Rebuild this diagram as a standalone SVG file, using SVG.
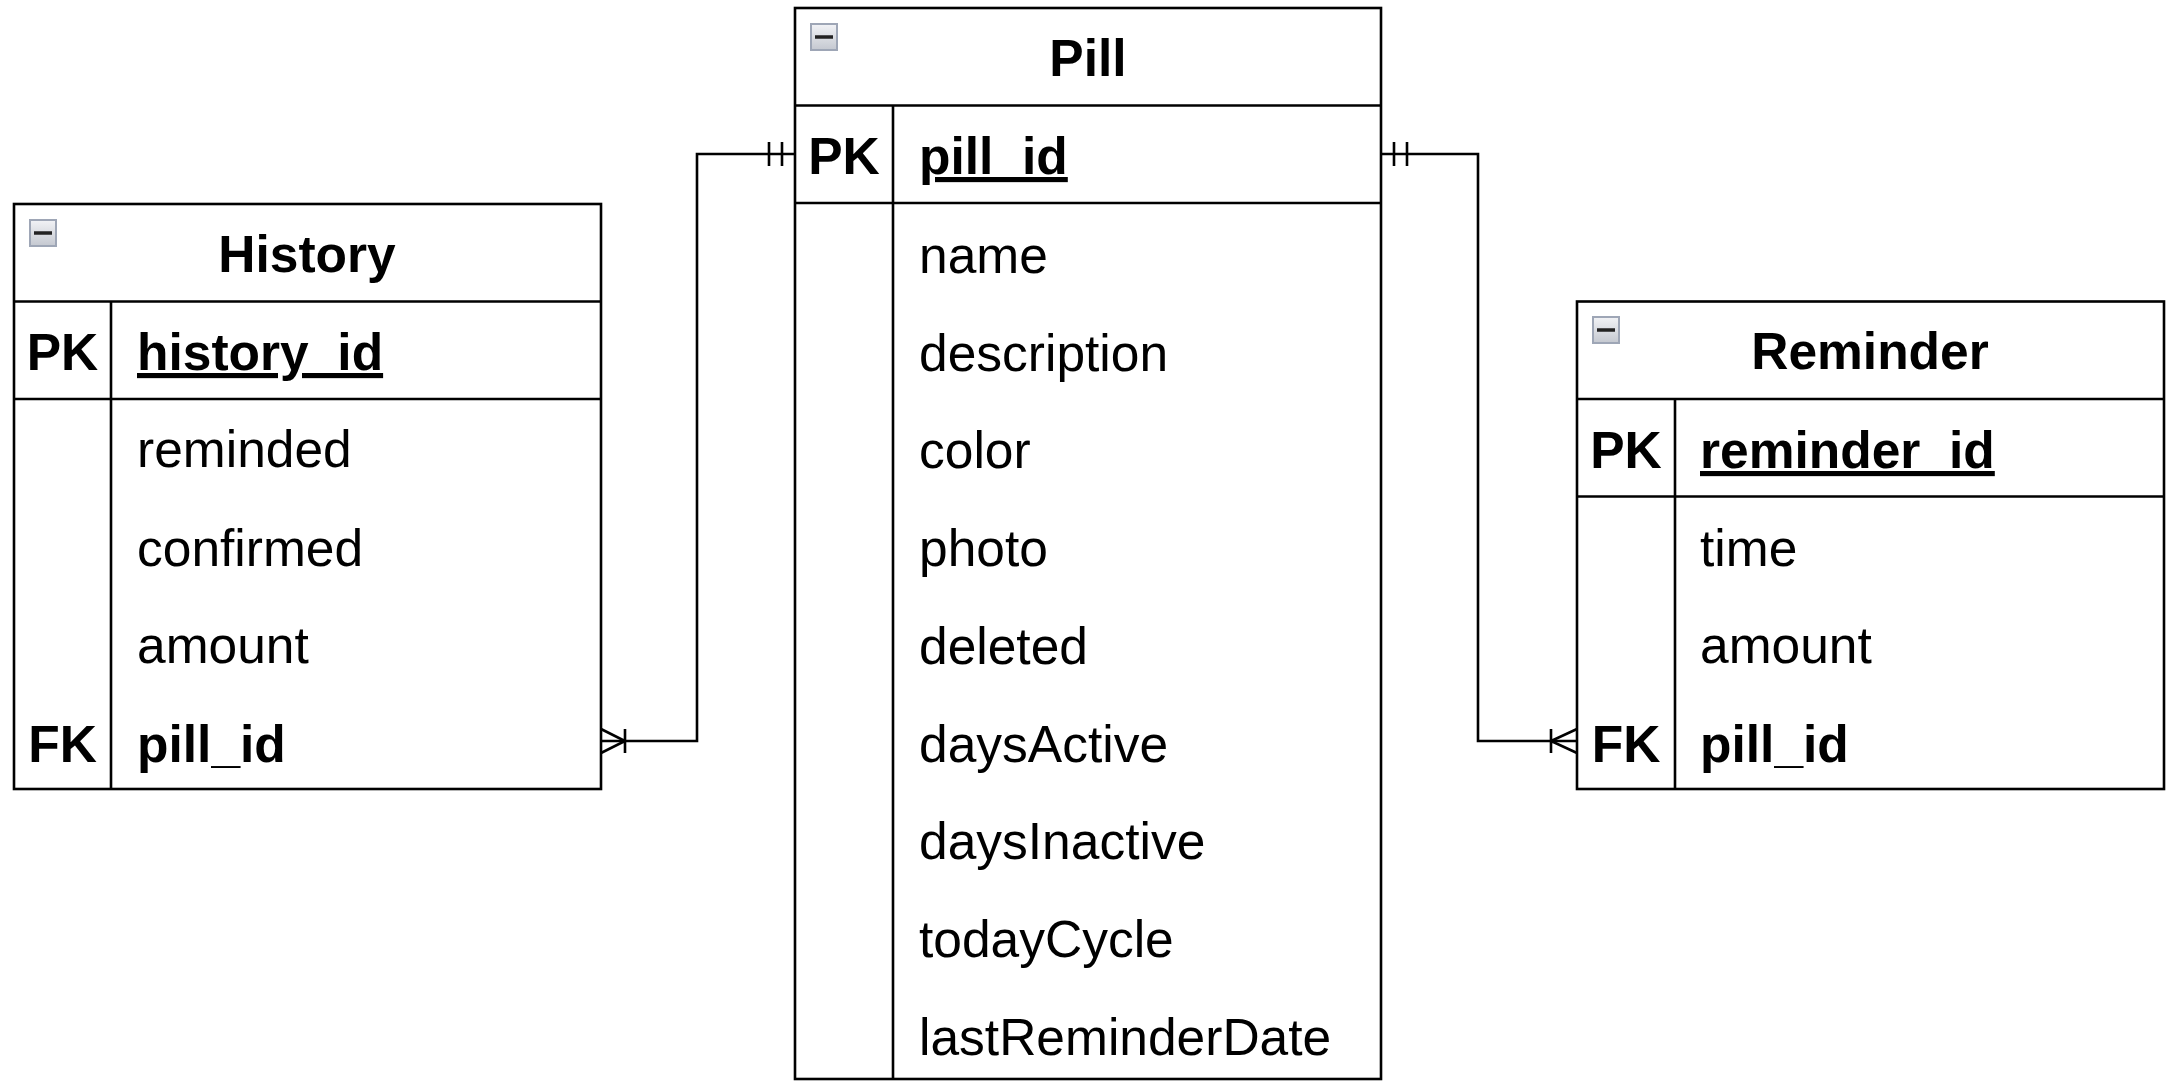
<svg xmlns="http://www.w3.org/2000/svg" width="2167" height="1081" viewBox="0 0 2167 1081">
<style>
.box{fill:#fff;stroke:#000;stroke-width:2.6}
.ln{stroke:#000;stroke-width:2.6;fill:none}
.conn{stroke:#000;stroke-width:2.6;fill:none}
.t{font-family:"Liberation Sans",Arial,sans-serif;font-size:51.5px;fill:#000}
.b{font-weight:bold}
.title{font-weight:bold;text-anchor:middle}
.key{font-weight:bold;text-anchor:middle}
.u{text-decoration:underline}
.ic{fill:url(#icg);stroke:#9ea6b6;stroke-width:2}
.icm{stroke:#222;stroke-width:3.5}
</style>
<defs>
<linearGradient id="icg" x1="0" y1="0" x2="0" y2="1">
<stop offset="0" stop-color="#f2f3f6"/>
<stop offset="1" stop-color="#c4c8d0"/>
</linearGradient>
</defs>

<g id="history">
<rect class="box" x="14" y="204" width="587" height="585"/>
<line class="ln" x1="14" y1="301.5" x2="601" y2="301.5"/>
<line class="ln" x1="14" y1="399" x2="601" y2="399"/>
<line class="ln" x1="111" y1="301.5" x2="111" y2="789"/>
<rect class="ic" x="30" y="220" width="26" height="26"/>
<line class="icm" x1="34" y1="233" x2="52" y2="233"/>
<text class="t title" x="307" y="272">History</text>
<text class="t key" x="62.5" y="370">PK</text>
<text class="t b u" x="137" y="370">history_id</text>
<text class="t" x="137" y="467">reminded</text>
<text class="t" x="137" y="566">confirmed</text>
<text class="t" x="137" y="663">amount</text>
<text class="t key" x="62.5" y="762">FK</text>
<text class="t b" x="137" y="762">pill_id</text>
</g>

<g id="pill">
<rect class="box" x="795" y="8" width="586" height="1071"/>
<line class="ln" x1="795" y1="105.5" x2="1381" y2="105.5"/>
<line class="ln" x1="795" y1="203" x2="1381" y2="203"/>
<line class="ln" x1="893" y1="105.5" x2="893" y2="1079"/>
<rect class="ic" x="811" y="24" width="26" height="26"/>
<line class="icm" x1="815" y1="37" x2="833" y2="37"/>
<text class="t title" x="1088" y="76">Pill</text>
<text class="t key" x="844" y="174">PK</text>
<text class="t b u" x="919" y="174">pill_id</text>
<text class="t" x="919" y="273">name</text>
<text class="t" x="919" y="371">description</text>
<text class="t" x="919" y="468">color</text>
<text class="t" x="919" y="566">photo</text>
<text class="t" x="919" y="664">deleted</text>
<text class="t" x="919" y="762">daysActive</text>
<text class="t" x="919" y="859">daysInactive</text>
<text class="t" x="919" y="957">todayCycle</text>
<text class="t" x="919" y="1055">lastReminderDate</text>
</g>

<g id="reminder">
<rect class="box" x="1577" y="301.5" width="587" height="487.5"/>
<line class="ln" x1="1577" y1="399" x2="2164" y2="399"/>
<line class="ln" x1="1577" y1="496.5" x2="2164" y2="496.5"/>
<line class="ln" x1="1675" y1="399" x2="1675" y2="789"/>
<rect class="ic" x="1593" y="317" width="26" height="26"/>
<line class="icm" x1="1597" y1="330" x2="1615" y2="330"/>
<text class="t title" x="1870" y="369">Reminder</text>
<text class="t key" x="1626" y="468">PK</text>
<text class="t b u" x="1700" y="468">reminder_id</text>
<text class="t" x="1700" y="566">time</text>
<text class="t" x="1700" y="663">amount</text>
<text class="t key" x="1626" y="762">FK</text>
<text class="t b" x="1700" y="762">pill_id</text>
</g>

<g id="connectors">
<path class="conn" d="M795,154 H697 V741 H601"/>
<path class="conn" d="M769,142 V166 M782,142 V166"/>
<path class="conn" d="M601,729 L625,741 L601,753 M625,729 V753"/>
<path class="conn" d="M1381,154 H1478 V741 H1577"/>
<path class="conn" d="M1394,142 V166 M1407,142 V166"/>
<path class="conn" d="M1577,729 L1551,741 L1577,753 M1551,729 V753"/>
</g>
</svg>
